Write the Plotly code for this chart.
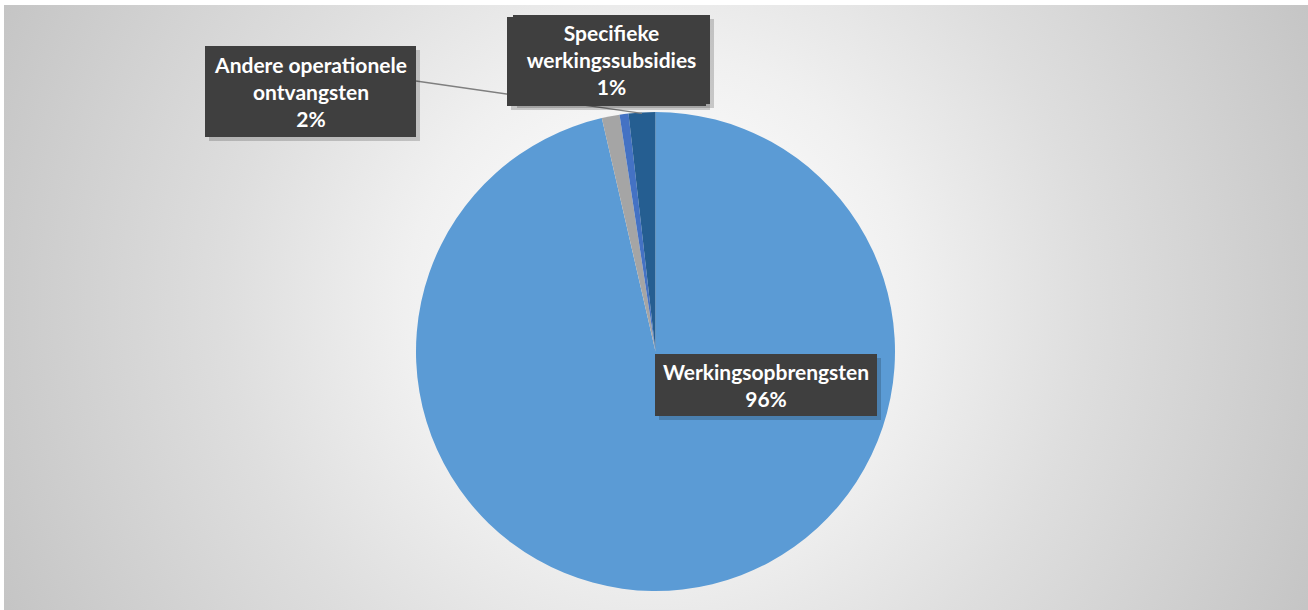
import base64
import math
import plotly.graph_objects as go

# ---- data ----
categories = ["Werkingsopbrengsten", "Specifieke werkingssubsidies",
              "Overige werkingssubsidies", "Andere operationele ontvangsten"]
values = [96.4, 1.2, 0.6, 1.8]
colors = ["#5B9BD5", "#A5A5A5", "#4472C4", "#255E91"]
label_text = {
    "Werkingsopbrengsten": "Werkingsopbrengsten",
    "Specifieke werkingssubsidies": "Specifieke<br>werkingssubsidies",
    "Overige werkingssubsidies": "",
    "Andere operationele ontvangsten": "Andere operationele<br>ontvangsten",
}

W, H = 1308, 610
CX, CY, R = 655.5, 351.5, 239.5


def px(x):
    return x / W


def py(y):
    return 1 - y / H


total = sum(values)
pct = [round(v / total * 100) for v in values]

fig = go.Figure(go.Pie(
    labels=categories, values=values, sort=False, direction="clockwise",
    rotation=0, marker=dict(colors=colors, line=dict(width=0)),
    textinfo="none", hoverinfo="label+percent", showlegend=False,
    domain=dict(x=[px(CX - R), px(CX + R)], y=[py(CY + R), py(CY - R)]),
))

# radial gradient background
svg = f'''<svg xmlns="http://www.w3.org/2000/svg" width="{W}" height="{H}" viewBox="0 0 {W} {H}" preserveAspectRatio="none">
<defs><radialGradient id="g" gradientUnits="userSpaceOnUse" cx="655" cy="300" r="720">
<stop offset="0" stop-color="#ffffff"/>
<stop offset="0.15" stop-color="#fbfbfb"/>
<stop offset="0.35" stop-color="#f0f0f0"/>
<stop offset="0.6" stop-color="#dedede"/>
<stop offset="1" stop-color="#c5c5c5"/>
</radialGradient></defs>
<rect x="0" y="0" width="{W}" height="{H}" fill="url(#g)"/></svg>'''
uri = "data:image/svg+xml;base64," + base64.b64encode(svg.encode()).decode()
fig.add_layout_image(dict(source=uri, xref="paper", yref="paper", x=px(4), y=py(5),
                          sizex=1 - px(4), sizey=py(5), sizing="stretch",
                          xanchor="left", yanchor="top", layer="below"))

shapes = []
annotations = []
BOX = "#3f3f3f"
FONT = dict(family="Lato, 'Open Sans', sans-serif", size=21, color="white")


def label_box(idx, x0, y0, x1, y1):
    shapes.append(dict(type="rect", xref="paper", yref="paper",
                       x0=px(x0 + 4), x1=px(x1 + 4), y0=py(y0 + 4), y1=py(y1 + 4),
                       fillcolor="rgba(0,0,0,0.18)", line=dict(width=0), layer="above"))
    name = categories[idx]
    txt = label_text[name]
    text = f"<b>{txt}<br>{pct[idx]}%</b>" if txt else " "
    annotations.append(dict(xref="paper", yref="paper", x=px((x0 + x1) / 2), y=py((y0 + y1) / 2),
                            xanchor="center", yanchor="middle", showarrow=False,
                            width=x1 - x0, height=y1 - y0, borderpad=0, borderwidth=0,
                            bgcolor=BOX, valign="middle",
                            text=text, font=FONT, align="center"))


# leader line from "Andere operationele ontvangsten" box to its slice (mid-angle from data)
idx_andere = 3
start = sum(values[:idx_andere]) / total * 360
mid = math.radians(start + values[idx_andere] / total * 180)
lx = CX + (R - 1) * math.sin(mid)
ly = CY - (R - 1) * math.cos(mid)
shapes.append(dict(type="line", xref="paper", yref="paper", x0=px(416), y0=py(81),
                   x1=px(lx), y1=py(ly), line=dict(color="#7f7f7f", width=1.5), layer="above"))

label_box(3, 205, 46, 416, 137)
label_box(2, 507, 17, 706, 106)
label_box(1, 513, 15, 710, 104)
label_box(0, 655, 354, 877, 416)

fig.update_layout(width=W, height=H, margin=dict(l=0, r=0, t=0, b=0),
                  paper_bgcolor="white", plot_bgcolor="white",
                  shapes=shapes, annotations=annotations)

fig.write_html("out.html", config={"displayModeBar": False},
               post_script="document.body.style.margin='0';document.body.style.overflow='hidden';")
